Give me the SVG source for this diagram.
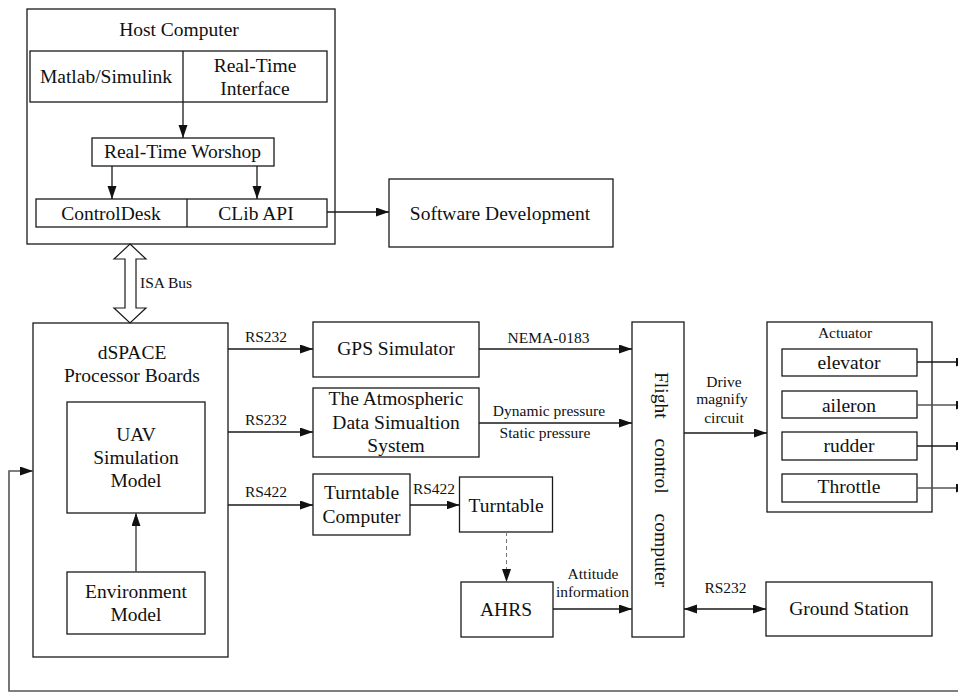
<svg xmlns="http://www.w3.org/2000/svg" width="958" height="693" viewBox="0 0 958 693">
  <style>
    .box { fill: #ffffff; stroke: #1a1a1a; stroke-width: 1.3; }
    .ln { fill: none; stroke: #1a1a1a; stroke-width: 1.3; }
    .gray { stroke: #555555; stroke-width: 1.6; }
    .dash { fill: none; stroke: #777777; stroke-width: 1; stroke-dasharray: 4 3; }
    text { font-family: "Liberation Serif", "Times New Roman", serif; fill: #111111; }
    .t { font-size: 19.5px; text-anchor: middle; }
    .s { font-size: 15.5px; text-anchor: middle; }
  </style>
  <defs>
    <marker id="ah" markerUnits="userSpaceOnUse" markerWidth="14" markerHeight="10" refX="13" refY="4.5" orient="auto-start-reverse">
      <path d="M0,0 L13,4.5 L0,9 Z" fill="#111111"/>
    </marker>
  </defs>

  <!-- Host computer -->
  <g id="host">
    <rect class="box" x="27" y="9" width="308" height="235"/>
    <text class="t" x="179" y="36">Host Computer</text>
  </g>
  <g id="matlab-rti">
    <rect class="box" x="30" y="51" width="297" height="51"/>
    <text class="t" x="106" y="83">Matlab/Simulink</text>
    <text class="t" x="255" y="72">Real-Time</text>
    <text class="t" x="255" y="95">Interface</text>
  </g>
  <g id="rtw">
    <rect class="box" x="92" y="138" width="182" height="28"/>
    <text class="t" x="182.5" y="158">Real-Time Worshop</text>
  </g>
  <g id="controldesk-clib">
    <rect class="box" x="36" y="199" width="291" height="28"/>
    <line class="ln" x1="187" y1="199" x2="187" y2="227"/>
    <text class="t" x="111" y="220">ControlDesk</text>
    <text class="t" x="256" y="220">CLib API</text>
  </g>
  <g id="software">
    <rect class="box" x="389" y="179" width="224" height="68"/>
    <text class="t" x="500" y="220">Software Development</text>
  </g>

  <!-- dSPACE -->
  <g id="dspace">
    <rect class="box" x="33" y="323" width="195" height="334"/>
    <text class="t" x="132" y="359">dSPACE</text>
    <text class="t" x="132" y="382">Processor Boards</text>
  </g>
  <g id="uav">
    <rect class="box" x="67" y="402" width="138" height="111"/>
    <text class="t" x="136" y="441">UAV</text>
    <text class="t" x="136" y="464">Simulation</text>
    <text class="t" x="136" y="487">Model</text>
  </g>
  <g id="environment">
    <rect class="box" x="67" y="572" width="138" height="62"/>
    <text class="t" x="136" y="598">Environment</text>
    <text class="t" x="136" y="621">Model</text>
  </g>

  <!-- Simulators -->
  <g id="gps">
    <rect class="box" x="313" y="322" width="166" height="55"/>
    <text class="t" x="396" y="355">GPS Simulator</text>
  </g>
  <g id="atmos">
    <rect class="box" x="313" y="388" width="166" height="69"/>
    <text class="t" x="396" y="405">The Atmospheric</text>
    <text class="t" x="396" y="429">Data Simualtion</text>
    <text class="t" x="396" y="452">System</text>
  </g>
  <g id="turntable-computer">
    <rect class="box" x="313" y="474" width="97" height="61"/>
    <text class="t" x="361.5" y="499">Turntable</text>
    <text class="t" x="361.5" y="523">Computer</text>
  </g>
  <g id="turntable">
    <rect class="box" x="459.5" y="477" width="93" height="55"/>
    <text class="t" x="506" y="512">Turntable</text>
  </g>
  <g id="ahrs">
    <rect class="box" x="461" y="582" width="92" height="55"/>
    <text class="t" x="506" y="616">AHRS</text>
  </g>

  <!-- Flight control computer -->
  <g id="fcc">
    <rect class="box" x="632" y="322" width="52" height="315"/>
    <text transform="translate(655,372) rotate(90)" style="font-size:19.5px; word-spacing:15px">Flight control computer</text>
  </g>

  <!-- Actuators -->
  <g id="actuator">
    <rect class="box" x="767" y="322" width="165" height="190"/>
    <text class="s" x="845" y="338">Actuator</text>
  </g>
  <g id="elevator">
    <rect class="box" x="782" y="349" width="135" height="27"/>
    <text class="t" x="849" y="369">elevator</text>
  </g>
  <g id="aileron">
    <rect class="box" x="782" y="391" width="135" height="27"/>
    <text class="t" x="849" y="412">aileron</text>
  </g>
  <g id="rudder">
    <rect class="box" x="782" y="432" width="135" height="28"/>
    <text class="t" x="849" y="452">rudder</text>
  </g>
  <g id="throttle">
    <rect class="box" x="782" y="474" width="135" height="28"/>
    <text class="t" x="849" y="493">Throttle</text>
  </g>
  <g id="ground">
    <rect class="box" x="766" y="582" width="166" height="54"/>
    <text class="t" x="849" y="615">Ground Station</text>
  </g>

  <!-- Connectors -->
  <g id="connectors">
    <!-- host internals -->
    <line class="ln" x1="183" y1="51" x2="183" y2="138" marker-end="url(#ah)"/>
    <line class="ln" x1="112" y1="166" x2="112" y2="199" marker-end="url(#ah)"/>
    <line class="ln" x1="257" y1="166" x2="257" y2="199" marker-end="url(#ah)"/>
    <line class="ln" x1="327" y1="212" x2="389" y2="212" marker-end="url(#ah)"/>

    <!-- ISA bus hollow double arrow -->
    <path d="M130,244 L146,259 L136,259 L136,308 L146,308 L130,323 L114,308 L125,308 L125,259 L114,259 Z" fill="#ffffff" stroke="#1a1a1a" stroke-width="1.2"/>
    <text class="s" x="140" y="288" style="text-anchor:start">ISA Bus</text>

    <!-- dSPACE outputs -->
    <line class="ln" x1="228" y1="349" x2="313" y2="349" marker-end="url(#ah)"/>
    <text class="s" x="266" y="342">RS232</text>
    <line class="ln" x1="228" y1="432" x2="313" y2="432" marker-end="url(#ah)"/>
    <text class="s" x="266" y="425">RS232</text>
    <line class="ln" x1="228" y1="505" x2="313" y2="505" marker-end="url(#ah)"/>
    <text class="s" x="266" y="497">RS422</text>

    <!-- environment to UAV model -->
    <line class="ln gray" x1="136" y1="572" x2="136" y2="513" marker-end="url(#ah)"/>

    <!-- simulators to flight control computer -->
    <line class="ln" x1="479" y1="349" x2="632" y2="349" marker-end="url(#ah)"/>
    <text class="s" x="548.5" y="343">NEMA-0183</text>
    <line class="ln" x1="479" y1="423" x2="632" y2="423" marker-end="url(#ah)"/>
    <text class="s" x="549" y="416">Dynamic pressure</text>
    <text class="s" x="545" y="438">Static pressure</text>

    <line class="ln" x1="410" y1="505" x2="459.5" y2="505" marker-end="url(#ah)"/>
    <text class="s" x="434" y="494">RS422</text>
    <line class="dash" x1="506.5" y1="532" x2="506.5" y2="582" marker-end="url(#ah)"/>

    <line class="ln" x1="553" y1="609" x2="632" y2="609" marker-end="url(#ah)"/>
    <text class="s" x="593" y="579">Attitude</text>
    <text class="s" x="592.5" y="597">information</text>

    <!-- FCC to actuators and ground station -->
    <line class="ln" x1="684" y1="433" x2="767" y2="433" marker-end="url(#ah)"/>
    <text class="s" x="724" y="387">Drive</text>
    <text class="s" x="722" y="404">magnify</text>
    <text class="s" x="724" y="423">circuit</text>

    <line class="ln" x1="684" y1="609" x2="766" y2="609" marker-start="url(#ah)" marker-end="url(#ah)"/>
    <text class="s" x="725.5" y="593">RS232</text>

    <!-- actuator outputs -->
    <line class="ln" x1="917" y1="362" x2="969" y2="362" marker-end="url(#ah)"/>
    <line class="ln gray" x1="917" y1="405" x2="969" y2="405" marker-end="url(#ah)"/>
    <line class="ln" x1="917" y1="446" x2="969" y2="446" marker-end="url(#ah)"/>
    <line class="ln gray" x1="917" y1="488" x2="969" y2="488" marker-end="url(#ah)"/>

    <!-- feedback loop -->
    <polyline class="ln gray" points="970,691 9,691 9,471 33,471" marker-end="url(#ah)"/>
  </g>
</svg>
